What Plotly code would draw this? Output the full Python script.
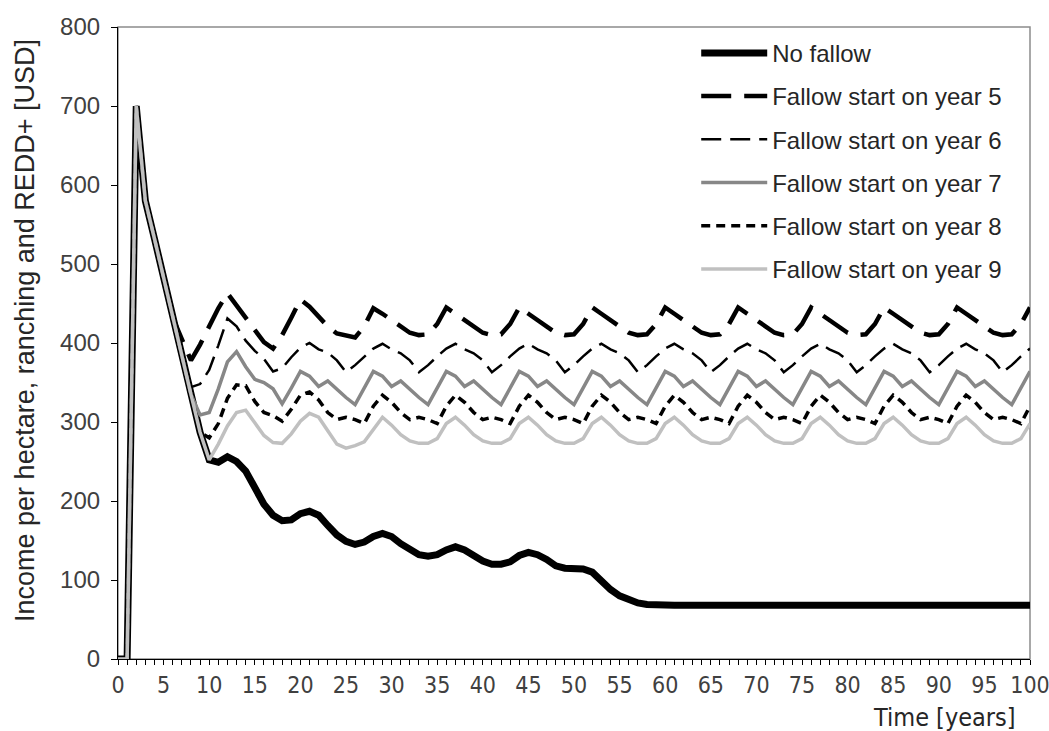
import plotly.graph_objects as go

years = list(range(0, 101))

no_fallow = [0, 0, 700, 580, 532, 482, 432, 382, 335, 287, 252,
             249, 256, 250, 238, 217, 196, 182, 175, 176, 184,
             187, 182, 169, 157, 149, 145, 148, 155, 159, 155,
             146, 138, 132, 130, 132, 138, 142, 138, 130, 124,
             120, 120, 123, 131, 135, 132, 126, 118, 115, 114,
             114, 110, 98, 88, 80, 75, 71, 69, 68, 68,
             68, 68, 68, 68, 68, 68, 68, 68, 68, 68,
             68, 68, 68, 68, 68, 68, 68, 68, 68, 68,
             68, 68, 68, 68, 68, 68, 68, 68, 68, 68,
             68, 68, 68, 68, 68, 68, 68, 68, 68, 68]

fallow_5 = [0, 0, 700, 580, 532, 482, 432,
            405, 378, 398, 421, 444, 463,
            448, 432, 417, 401, 393, 410, 432, 455,
            446, 433, 421, 412, 410, 407, 421, 444,
            437, 429, 421, 413, 410, 411, 424, 445,
            437, 429, 421, 413, 410, 411, 424, 445,
            437, 429, 421, 413, 410, 411, 424, 445,
            437, 429, 421, 413, 410, 411, 424, 445,
            437, 429, 421, 413, 410, 411, 424, 445,
            437, 429, 421, 413, 410, 411, 424, 445,
            437, 429, 421, 413, 410, 411, 424, 445,
            437, 429, 421, 413, 410, 411, 424, 445,
            437, 429, 421, 413, 410, 411, 424, 445]

fallow_6 = [0, 0, 700, 580, 532, 482, 432, 382,
            344, 348, 366, 397, 431, 421,
            403, 390, 380, 364, 368, 382, 394, 400,
            392, 388, 378, 363, 372, 383, 393, 399,
            392, 387, 378, 363, 372, 383, 393, 399,
            392, 387, 378, 363, 372, 383, 393, 399,
            392, 387, 378, 363, 372, 383, 393, 399,
            392, 387, 378, 363, 372, 383, 393, 399,
            392, 387, 378, 363, 372, 383, 393, 399,
            392, 387, 378, 363, 372, 383, 393, 399,
            392, 387, 378, 363, 372, 383, 393, 399,
            392, 387, 378, 363, 372, 383, 393, 399,
            392, 387, 378, 363, 372, 383, 393]

fallow_7 = [0, 0, 700, 580, 532, 482, 432, 382, 335,
            309, 312, 342, 376,
            389, 370, 354, 350, 342, 323, 343, 364,
            358, 345, 352, 341, 331, 322, 342, 364,
            358, 345, 352, 341, 331, 322, 342, 364,
            358, 345, 352, 341, 331, 322, 342, 364,
            358, 345, 352, 341, 331, 322, 342, 364,
            358, 345, 352, 341, 331, 322, 342, 364,
            358, 345, 352, 341, 331, 322, 342, 364,
            358, 345, 352, 341, 331, 322, 342, 364,
            358, 345, 352, 341, 331, 322, 342, 364,
            358, 345, 352, 341, 331, 322, 342, 364,
            358, 345, 352, 341, 331, 322, 342, 364]

fallow_8 = [0, 0, 700, 580, 532, 482, 432, 382, 335, 287,
            280, 298, 330, 347,
            346, 326, 312, 308, 301, 316, 334, 338,
            328, 312, 303, 306, 303, 298, 320, 334,
            325, 312, 303, 306, 303, 298, 320, 334,
            325, 312, 303, 306, 303, 298, 320, 334,
            325, 312, 303, 306, 303, 298, 320, 334,
            325, 312, 303, 306, 303, 298, 320, 334,
            325, 312, 303, 306, 303, 298, 320, 334,
            325, 312, 303, 306, 303, 298, 320, 334,
            325, 312, 303, 306, 303, 298, 320, 334,
            325, 312, 303, 306, 303, 298, 320, 334,
            325, 312, 303, 306, 303, 298, 320]

fallow_9 = [0, 0, 700, 580, 532, 482, 432, 382, 335, 287, 252,
            272, 295, 312, 315,
            299, 283, 274, 273, 285, 301, 311,
            306, 289, 272, 267, 270, 275, 291, 306,
            296, 284, 276, 273, 273, 279, 298, 306,
            296, 284, 276, 273, 273, 279, 298, 306,
            296, 284, 276, 273, 273, 279, 298, 306,
            296, 284, 276, 273, 273, 279, 298, 306,
            296, 284, 276, 273, 273, 279, 298, 306,
            296, 284, 276, 273, 273, 279, 298, 306,
            296, 284, 276, 273, 273, 279, 298, 306,
            296, 284, 276, 273, 273, 279, 298, 306,
            296, 284, 276, 273, 273, 279, 298]

series_names = ["No fallow", "Fallow start on year 5", "Fallow start on year 6",
                "Fallow start on year 7", "Fallow start on year 8", "Fallow start on year 9"]
series_values = [no_fallow, fallow_5, fallow_6, fallow_7, fallow_8, fallow_9]

styles = [
    dict(color="#000000", width=7, dash="solid"),
    dict(color="#000000", width=4.5, dash="30px,13px"),
    dict(color="#000000", width=2.5, dash="20px,9px"),
    dict(color="#878787", width=3.5, dash="solid"),
    dict(color="#000000", width=3.5, dash="9px,6px"),
    dict(color="#c0c0c0", width=3.5, dash="solid"),
]

FONT = "Arial, Liberation Sans, sans-serif"
NARROW = "Liberation Sans Narrow, Arial Narrow, DejaVu Sans Condensed, sans-serif"

fig = go.Figure()
for i, (name, vals) in enumerate(zip(series_names, series_values)):
    fig.add_trace(go.Scatter(
        x=years, y=vals, mode="lines", name=name,
        line=styles[i], legendgroup=f"g{i}",
    ))

fig.update_layout(
    width=1049, height=731,
    margin=dict(l=118, r=19, t=27, b=72, autoexpand=False),
    paper_bgcolor="white", plot_bgcolor="white",
    font=dict(family=FONT, size=24, color="#404040"),
    showlegend=True,
    legend=dict(
        x=0.634, y=0.994, xanchor="left", yanchor="top",
        font=dict(family=FONT, size=24, color="#262626"),
        bgcolor="rgba(0,0,0,0)", itemwidth=66, tracegroupgap=9,
        traceorder="grouped",
    ),
    xaxis=dict(
        range=[0, 100], tickmode="linear", tick0=0, dtick=5,
        showgrid=False, zeroline=False, automargin=False,
        showline=True, linecolor="#000000", linewidth=1.2,
        ticks="outside", ticklen=5, tickcolor="#000000",
        tickfont=dict(family=NARROW, size=23, color="#404040"),
        ticklabelstandoff=0, ticklabeloverflow="allow",
        minor=dict(dtick=1, ticks="outside", ticklen=5, tickcolor="#000000", showgrid=False),
    ),
    yaxis=dict(
        range=[0, 800], tickmode="linear", tick0=0, dtick=100,
        showgrid=False, zeroline=False, automargin=False,
        showline=True, linecolor="#000000", linewidth=1.2,
        ticks="outside", ticklen=6, tickcolor="#000000",
        tickfont=dict(family=FONT, size=24, color="#404040"),
        ticklabelstandoff=6, ticklabeloverflow="allow",
    ),
    shapes=[dict(type="rect", xref="paper", yref="paper", x0=0, y0=0, x1=1, y1=1,
                 line=dict(color="#8c8c8c", width=1.5), layer="below")],
    annotations=[
        dict(text="Time [years]", xref="paper", yref="paper",
             x=0.987, y=-0.118, xanchor="right", yanchor="bottom",
             showarrow=False,
             font=dict(family=NARROW, size=25, color="#262626")),
        dict(text="Income per hectare, ranching and REDD+ [USD]", xref="paper", yref="paper",
             x=-0.102, y=0.5206, xanchor="center", yanchor="middle", textangle=-90,
             showarrow=False,
             font=dict(family=FONT, size=27, color="#262626")),
    ],
)

fig.write_html("out.html", config={"displayModeBar": False},
               post_script="document.body.style.margin='0';")
